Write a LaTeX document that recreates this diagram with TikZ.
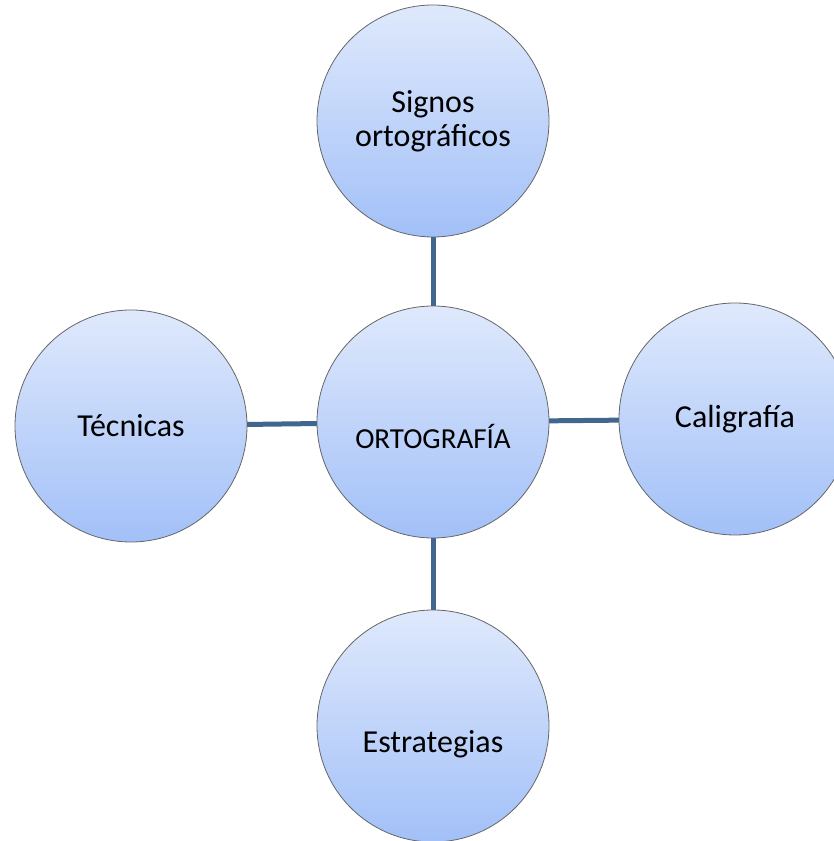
\documentclass[tikz,border=0pt]{standalone}
\usepackage{fontspec}
\setmainfont{Carlito}
\usepackage{tikz}
\usetikzlibrary{positioning}
\definecolor{bubtop}{HTML}{DFE9FC}
\definecolor{bubbot}{HTML}{A2C0F8}
\definecolor{linkblue}{HTML}{41678F}

\tikzset{
  bubble/.style={circle, draw=gray!80!black, line width=0.8pt, top color=bubtop, bottom color=bubbot,
                 minimum size=232pt, inner sep=0pt, align=center, font=\fontsize{32}{34}\selectfont},
  lowtext/.style={text height=#1, text depth=0pt},
  link/.style={line width=5pt, linkblue}
}

\begin{document}
\begin{tikzpicture}[x=1pt, y=1pt]
    \useasboundingbox (0,0) rectangle (834,841);
    % links first, bubbles on top
    \coordinate (c) at (433,419);
    \coordinate (t) at (433,720);
    \coordinate (l) at (131,415);
    \coordinate (r) at (735,422);
    \coordinate (b) at (433,115);
    \draw[link] (c) -- (t);
    \draw[link] (c) -- (b);
    \draw[link] (c) -- (l);
    \draw[link] (c) -- (r);
    \node[bubble] (signos) at (t) {Signos\\ortográficos};
    \node[bubble] (tecnicas) at (l) {Técnicas};
    \node[bubble] (caligrafia) at (r) {Caligrafía};
    \node[bubble, lowtext=54pt] (estrategias) at (b) {Estrategias};
    \node[bubble, lowtext=54pt, font=\fontsize{29}{31}\selectfont] (orto) at (c) {ORTOGRAFÍA};
\end{tikzpicture}
\end{document}
